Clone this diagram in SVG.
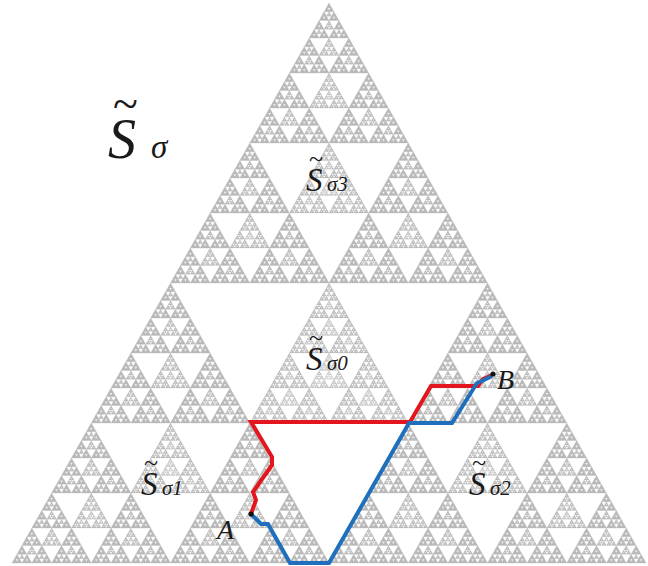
<svg xmlns="http://www.w3.org/2000/svg" width="648" height="566" viewBox="0 0 648 566">
<style>
  .lab { font-family: "Liberation Serif", "Times New Roman", serif; font-style: italic; fill: #1a1a1a; }
  .sub { font-family: "Liberation Serif", "Times New Roman", serif; font-style: italic; fill: #1a1a1a; }
  .til { font-family: "Liberation Serif", "Times New Roman", serif; fill: #1a1a1a; }
  .path { fill: none; stroke-width: 4; stroke-linejoin: miter; stroke-linecap: butt; }
</style>
<defs>
  <g id="t0"><polygon points="329,3 12,563 646,563" fill="#b9b9b9" stroke="#b9b9b9" stroke-width="22"/><polygon points="250,330 408,330 329,470" fill="#f4f4f4"/></g>
  <g id="t1"><use href="#t0" transform="matrix(.5 0 0 .5 164.5 1.5)"/><use href="#t0" transform="matrix(.5 0 0 .5 6 281.5)"/><use href="#t0" transform="matrix(.5 0 0 .5 323 281.5)"/><use href="#t0" transform="matrix(.25 0 0 .25 246.75 282.25)"/></g>
  <g id="t2"><use href="#t1" transform="matrix(.5 0 0 .5 164.5 1.5)"/><use href="#t1" transform="matrix(.5 0 0 .5 6 281.5)"/><use href="#t1" transform="matrix(.5 0 0 .5 323 281.5)"/><use href="#t1" transform="matrix(.25 0 0 .25 246.75 282.25)"/></g>
  <g id="t3"><use href="#t2" transform="matrix(.5 0 0 .5 164.5 1.5)"/><use href="#t2" transform="matrix(.5 0 0 .5 6 281.5)"/><use href="#t2" transform="matrix(.5 0 0 .5 323 281.5)"/><use href="#t2" transform="matrix(.25 0 0 .25 246.75 282.25)"/></g>
  <g id="t4"><use href="#t3" transform="matrix(.5 0 0 .5 164.5 1.5)"/><use href="#t3" transform="matrix(.5 0 0 .5 6 281.5)"/><use href="#t3" transform="matrix(.5 0 0 .5 323 281.5)"/><use href="#t3" transform="matrix(.25 0 0 .25 246.75 282.25)"/></g>
  <g id="t5"><use href="#t4" transform="matrix(.5 0 0 .5 164.5 1.5)"/><use href="#t4" transform="matrix(.5 0 0 .5 6 281.5)"/><use href="#t4" transform="matrix(.5 0 0 .5 323 281.5)"/><use href="#t4" transform="matrix(.25 0 0 .25 246.75 282.25)"/></g>
  <g id="t6"><use href="#t5" transform="matrix(.5 0 0 .5 164.5 1.5)"/><use href="#t5" transform="matrix(.5 0 0 .5 6 281.5)"/><use href="#t5" transform="matrix(.5 0 0 .5 323 281.5)"/><use href="#t5" transform="matrix(.25 0 0 .25 246.75 282.25)"/></g>
</defs>
<rect width="648" height="566" fill="#ffffff"/>
<g id="gasket"><use href="#t6"/></g>

<g id="connectors">
  <polyline class="path" stroke="#e3161e" points="251,514 256,500 253,492 272,465 272,457 251,422 410,422 431,386 478,386 483,379 492,375"/>
  <polyline class="path" stroke="#1f6fbc" points="251,514 261,524 268,524 290,563 329,563 409,423 452,423 477,383 484,380 492,376"/>
</g>

<g id="point-A"><circle cx="251" cy="514" r="2.6" fill="#111"/><text class="lab" x="217" y="539" font-size="28">A</text></g>
<g id="point-B"><circle cx="493" cy="374" r="2.6" fill="#111"/><text class="lab" x="497" y="389" font-size="28">B</text></g>

<g id="label-S-sigma"><text class="til" x="113" y="119" font-size="46">~</text><text class="lab" x="108" y="158" font-size="56">S</text><text class="sub" x="151" y="158" font-size="33">σ</text></g>
<g id="label-S-sigma3"><text class="til" x="309" y="167" font-size="26">~</text><text class="lab" x="306" y="191" font-size="33">S</text><text class="sub" x="327" y="191" font-size="21">σ3</text></g>
<g id="label-S-sigma0"><text class="til" x="309" y="346" font-size="26">~</text><text class="lab" x="306" y="370" font-size="33">S</text><text class="sub" x="327" y="370" font-size="21">σ0</text></g>
<g id="label-S-sigma1"><text class="til" x="144" y="471" font-size="26">~</text><text class="lab" x="141" y="495" font-size="33">S</text><text class="sub" x="162" y="495" font-size="21">σ1</text></g>
<g id="label-S-sigma2"><text class="til" x="472" y="471" font-size="26">~</text><text class="lab" x="469" y="495" font-size="33">S</text><text class="sub" x="490" y="495" font-size="21">σ2</text></g>
</svg>
